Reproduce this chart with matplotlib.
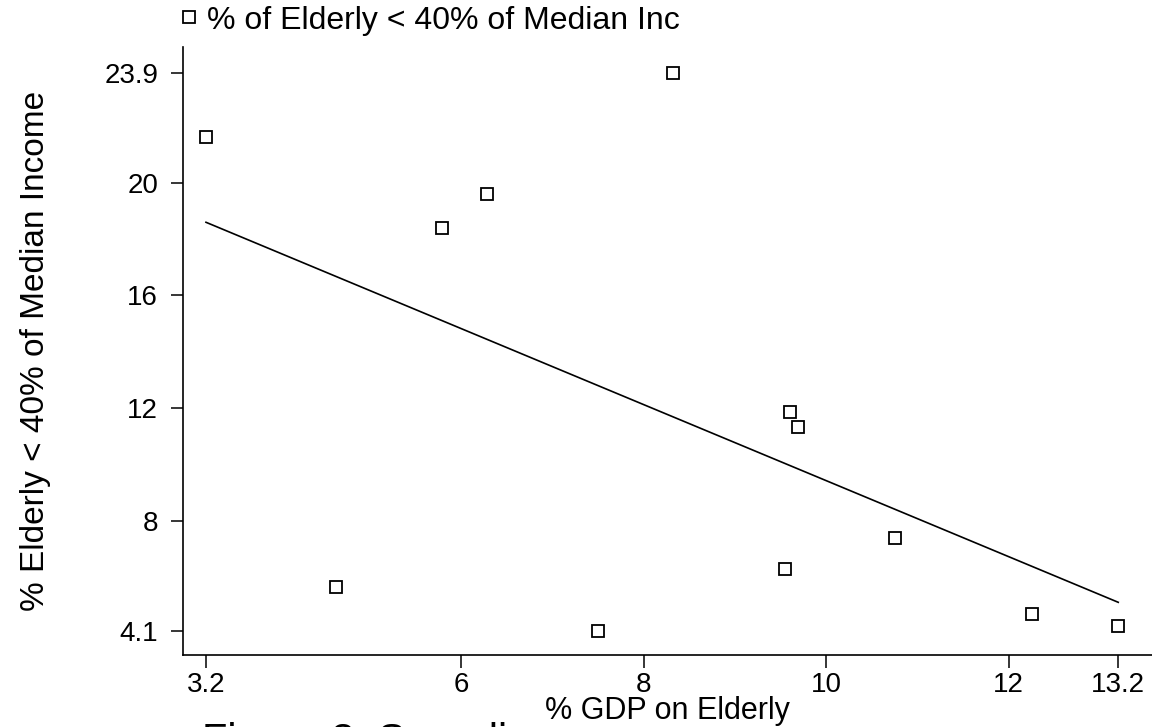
import matplotlib.pyplot as plt
import numpy as np

plt.rcParams['font.family'] = ['Liberation Sans', 'DejaVu Sans']

# spending on the elderly vs. share of elderly below 40% of median income
gdp_elderly = [3.2, 4.63, 5.79, 6.28, 8.32, 7.50, 9.60, 9.69, 9.55, 10.75, 12.25, 13.2]
pct_poor = [21.63, 5.66, 18.38, 19.58, 23.9, 4.1, 11.86, 11.33, 6.29, 7.39, 4.7, 4.28]

x_ticks = [3.2, 6, 8, 10, 12, 13.2]
x_ticklabels = ['3.2', '6', '8', '10', '12', '13.2']
y_ticks = [4.1, 8, 12, 16, 20, 23.9]
y_ticklabels = ['4.1', '8', '12', '16', '20', '23.9']

fig = plt.figure(figsize=(11.52, 7.27), dpi=100)
ax = fig.add_axes([0.159, 0.099, 0.841, 0.836])

ax.plot(gdp_elderly, pct_poor, linestyle='none', marker='s', markersize=8,
        markerfacecolor='white', markeredgecolor='black', markeredgewidth=1.3,
        label='% of Elderly < 40% of Median Inc')

# least squares fit line across the data range
slope, icpt = np.polyfit(gdp_elderly, pct_poor, 1)
xs = np.array([min(gdp_elderly), max(gdp_elderly)])
ax.plot(xs, slope * xs + icpt, color='black', linewidth=1.2)

ax.set_xlim(2.95, 13.57)
ax.set_ylim(3.25, 24.8)
ax.set_xticks(x_ticks)
ax.set_xticklabels(x_ticklabels)
ax.set_yticks(y_ticks)
ax.set_yticklabels(y_ticklabels)

for s in ['top', 'right']:
    ax.spines[s].set_visible(False)
for s in ['left', 'bottom']:
    ax.spines[s].set_linewidth(1.2)

ax.tick_params(axis='both', direction='out', length=9, width=1.1, labelsize=20)
ax.tick_params(axis='y', pad=9)
ax.tick_params(axis='x', pad=3)

ax.set_xlabel('% GDP on Elderly', fontsize=22, labelpad=-1)
ax.set_ylabel('% Elderly < 40% of Median Income', fontsize=24, labelpad=38)

ax.legend(loc='lower left', bbox_to_anchor=(0.153, 0.951), bbox_transform=fig.transFigure,
          frameon=False, fontsize=23, handletextpad=0.15, handlelength=0.8,
          borderaxespad=0, borderpad=0, markerscale=1.0)

fig.text(0.175, -0.048, 'Figure 3: Spending', fontsize=30, va='bottom')

fig.savefig('out.png', dpi=100)
